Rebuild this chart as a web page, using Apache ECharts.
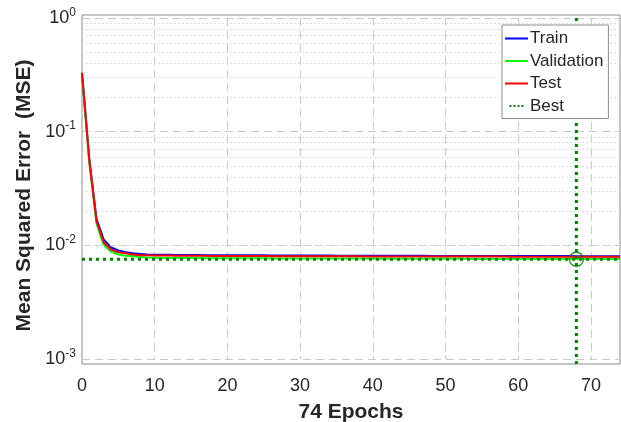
<!DOCTYPE html>
<html>
<head>
<meta charset="utf-8">
<script src="https://cdn.jsdelivr.net/npm/echarts@6/dist/echarts.min.js"></script>
<style>html,body{margin:0;padding:0;background:#fff}#c{width:621px;height:422px}</style>
</head>
<body>
<div id="c"></div>
<script>
// ---- data ----
var epochs = [];
for (var i = 0; i <= 74; i++) epochs.push(i);
var trainMSE = [0.326,0.058,0.0170,0.0112,0.0096,0.0090,0.0087,0.0085,0.0084,0.0083,
  0.00828,0.00826,0.00825,0.00824,0.00823,0.00822,0.00821,0.00820,0.00820,0.00819,
  0.00818,0.00818,0.00817,0.00817,0.00816,0.00816,0.00815,0.00815,0.00814,0.00814,
  0.00813,0.00813,0.00812,0.00812,0.00812,0.00811,0.00811,0.00811,0.00810,0.00810,
  0.00810,0.00809,0.00809,0.00809,0.00808,0.00808,0.00808,0.00808,0.00807,0.00807,
  0.00807,0.00807,0.00806,0.00806,0.00806,0.00806,0.00806,0.00805,0.00805,0.00805,
  0.00805,0.00805,0.00804,0.00804,0.00804,0.00804,0.00804,0.00804,0.00803,0.00803,
  0.00803,0.00803,0.00803,0.00803,0.00803];
var validationMSE = [0.326,0.054,0.0155,0.0100,0.0088,0.0083,0.0081,0.0080,0.0079,0.0078,
  0.00778,0.00776,0.00775,0.00774,0.00773,0.00772,0.00772,0.00771,0.00771,0.00770,
  0.00770,0.00769,0.00769,0.00768,0.00768,0.00768,0.00767,0.00767,0.00767,0.00766,
  0.00766,0.00766,0.00765,0.00765,0.00765,0.00765,0.00764,0.00764,0.00764,0.00764,
  0.00763,0.00763,0.00763,0.00763,0.00762,0.00762,0.00762,0.00762,0.00762,0.00761,
  0.00761,0.00761,0.00761,0.00761,0.00760,0.00760,0.00760,0.00760,0.00760,0.00760,
  0.00759,0.00759,0.00759,0.00759,0.00759,0.00759,0.00758,0.00758,0.00757,0.00758,
  0.00758,0.00758,0.00758,0.00758,0.00758];
var testMSE = [0.330,0.056,0.0162,0.0106,0.0092,0.0087,0.0085,0.0083,0.0082,0.0082,
  0.00815,0.00813,0.00812,0.00811,0.00810,0.00809,0.00808,0.00808,0.00807,0.00807,
  0.00806,0.00806,0.00805,0.00805,0.00804,0.00804,0.00803,0.00803,0.00803,0.00802,
  0.00802,0.00802,0.00801,0.00801,0.00801,0.00800,0.00800,0.00800,0.00800,0.00799,
  0.00799,0.00799,0.00799,0.00798,0.00798,0.00798,0.00798,0.00798,0.00797,0.00797,
  0.00797,0.00797,0.00797,0.00796,0.00796,0.00796,0.00796,0.00796,0.00796,0.00795,
  0.00795,0.00795,0.00795,0.00795,0.00795,0.00795,0.00794,0.00794,0.00794,0.00794,
  0.00794,0.00794,0.00794,0.00794,0.00794];
var bestEpoch = 68;
var bestMSE = 0.00755;
var xTicks = [0,10,20,30,40,50,60,70];
var seriesNames = ['Train','Validation','Test','Best'];
var xTitle = '74 Epochs';
var yTitle = 'Mean Squared Error  (MSE)';

// ---- build ----
function pairs(arr){ return epochs.map(function(e,i){ return [e, arr[i]]; }); }
var minorLines = [];
[0.001,0.01,0.1].forEach(function(d){ for (var k=2;k<=9;k++) minorLines.push({yAxis: d*k}); });
var txt = '#262626';
var font = 'Liberation Sans, Arial, sans-serif';
var dotIcon = 'path://M0,0h3v3h-3zM6,0h3v3h-3zM12,0h3v3h-3zM18,0h3v3h-3z';

var chart = echarts.init(document.getElementById('c'));
chart.setOption({
  animation: false,
  textStyle: {fontFamily: font},
  grid: [
    {left: 82, right: 1, top: 18, bottom: 63, containLabel: false, outerBoundsMode: 'none'},
    {left: 82, right: 1, top: 15, bottom: 58, containLabel: false, outerBoundsMode: 'none',
     show: true, borderColor: '#8c8c8c', borderWidth: 1, backgroundColor: 'transparent'}
  ],
  xAxis: [{
    type: 'value', min: 0, max: 74, interval: 10, gridIndex: 0,
    axisLine: {show: false}, axisTick: {show: false},
    axisLabel: {color: txt, fontSize: 18, margin: 18, fontFamily: font,
      formatter: function(v){ return xTicks.indexOf(v) >= 0 ? String(v) : ''; }},
    splitLine: {show: true, lineStyle: {color: '#c8c8c8', type: [8,5], width: 1}},
    name: xTitle, nameLocation: 'middle', nameGap: 43,
    nameTextStyle: {color: txt, fontSize: 21, fontWeight: 'bold', fontFamily: font}
  },{
    type: 'value', gridIndex: 1, min: 0, max: 74, show: false
  }],
  yAxis: [{
    type: 'log', logBase: 10, min: 0.001, max: 1, gridIndex: 0,
    axisLine: {show: false}, axisTick: {show: false},
    axisLabel: {color: txt, margin: 6, fontFamily: font,
      formatter: function(v){ var e = Math.round(Math.log10(v)); return '{b|10}{s|' + e + '}'; },
      rich: {b: {fontSize: 18, color: txt, fontFamily: font}, s: {fontSize: 12, color: txt, fontFamily: font, padding: [0,0,11,0]}}},
    splitLine: {show: true, lineStyle: {color: '#c8c8c8', type: [8,5], width: 1}},
    name: yTitle, nameLocation: 'middle', nameGap: 35,
    nameTextStyle: {color: txt, fontSize: 21, fontWeight: 'bold', fontFamily: font, padding: [0,14,0,0]}
  },{
    type: 'value', gridIndex: 1, min: 0, max: 1, show: false
  }],
  legend: {
    z: 50,
    data: [
      {name: 'Train', icon: 'rect'},
      {name: 'Validation', icon: 'rect'},
      {name: 'Test', icon: 'rect'},
      {name: 'Best', icon: dotIcon}
    ],
    orient: 'vertical', left: 502, top: 25,
    backgroundColor: '#fff', borderColor: '#8c8c8c', borderWidth: 1, borderRadius: 0,
    padding: [5, 5, 4, 3], itemGap: 5.5, itemWidth: 23, itemHeight: 2,
    textStyle: {color: txt, fontSize: 17, fontFamily: font, padding: [0,0,0,-3]}
  },
  series: [
    {name: 'Train', type: 'line', data: pairs(trainMSE), symbol: 'none', showSymbol: false,
     lineStyle: {color: '#0000ff', width: 2}, itemStyle: {color: '#0000ff'}, z: 3,
     markLine: {silent: true, symbol: 'none', label: {show: false}, animation: false,
       lineStyle: {color: '#dcdcdc', type: [2,2], width: 1}, data: minorLines}},
    {name: 'Validation', type: 'line', data: pairs(validationMSE), symbol: 'none', showSymbol: false,
     lineStyle: {color: '#00ff00', width: 2}, itemStyle: {color: '#00ff00'}, z: 4},
    {name: 'Test', type: 'line', data: pairs(testMSE), symbol: 'none', showSymbol: false,
     lineStyle: {color: '#ff0000', width: 2}, itemStyle: {color: '#ff0000'}, z: 5},
    {name: 'Best', type: 'line', data: [[0, bestMSE],[74, bestMSE]], symbol: 'none', showSymbol: false,
     lineStyle: {color: '#008000', width: 3, type: [3,4]}, itemStyle: {color: '#008000'}, z: 6},
    {name: 'bestEpochLine', type: 'line', xAxisIndex: 1, yAxisIndex: 1, data: [[bestEpoch, 0],[bestEpoch, 1]],
     symbol: 'none', showSymbol: false, silent: true,
     lineStyle: {color: '#008000', width: 3, type: [3,4]}, z: 6},
    {name: 'bestPoint', type: 'scatter', data: [[bestEpoch, bestMSE]], symbol: 'circle', symbolSize: 14,
     itemStyle: {color: 'rgba(0,0,0,0)', borderColor: '#008000', borderWidth: 1.5}, z: 7, silent: true}
  ]
});
</script>
</body>
</html>
